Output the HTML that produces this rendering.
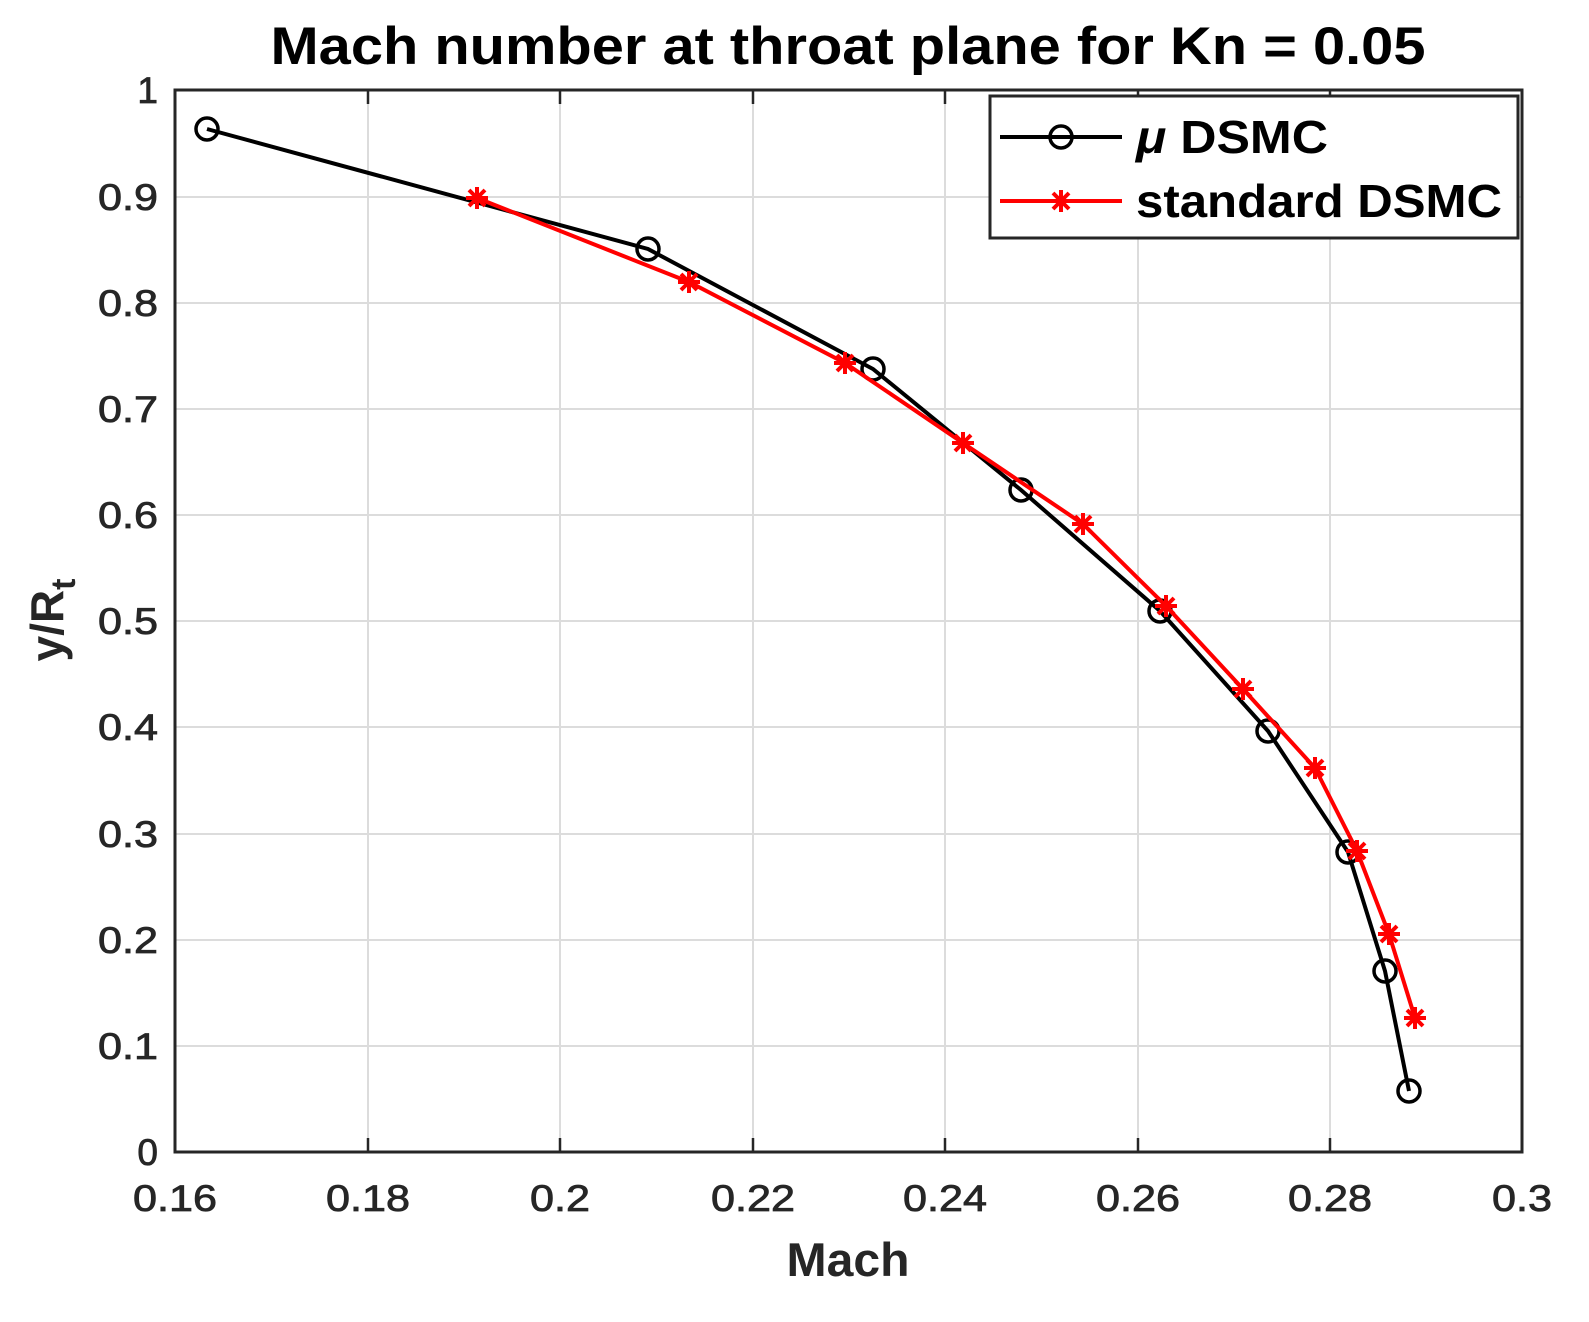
<!DOCTYPE html>
<html><head><meta charset="utf-8"><style>body{margin:0;background:#fff}</style></head><body>
<svg width="1589" height="1317" xmlns="http://www.w3.org/2000/svg" font-family="Liberation Sans, Arial, sans-serif">
<rect width="1589" height="1317" fill="#fff"/>
<g stroke="#dcdcdc" stroke-width="2">
<line x1="368" y1="90" x2="368" y2="1152"/><line x1="560" y1="90" x2="560" y2="1152"/><line x1="753" y1="90" x2="753" y2="1152"/><line x1="945" y1="90" x2="945" y2="1152"/><line x1="1138" y1="90" x2="1138" y2="1152"/><line x1="1330" y1="90" x2="1330" y2="1152"/>
<line x1="175" y1="197" x2="1522" y2="197"/><line x1="175" y1="303" x2="1522" y2="303"/><line x1="175" y1="409" x2="1522" y2="409"/><line x1="175" y1="515" x2="1522" y2="515"/><line x1="175" y1="621" x2="1522" y2="621"/><line x1="175" y1="727" x2="1522" y2="727"/><line x1="175" y1="834" x2="1522" y2="834"/><line x1="175" y1="940" x2="1522" y2="940"/><line x1="175" y1="1046" x2="1522" y2="1046"/>
</g>
<rect x="175" y="90" width="1347" height="1062" fill="none" stroke="#262626" stroke-width="3"/>
<g stroke="#262626" stroke-width="2.5">
<line x1="368" y1="1152" x2="368" y2="1138"/><line x1="560" y1="1152" x2="560" y2="1138"/><line x1="753" y1="1152" x2="753" y2="1138"/><line x1="945" y1="1152" x2="945" y2="1138"/><line x1="1138" y1="1152" x2="1138" y2="1138"/><line x1="1330" y1="1152" x2="1330" y2="1138"/>
<line x1="368" y1="90" x2="368" y2="104"/><line x1="560" y1="90" x2="560" y2="104"/><line x1="753" y1="90" x2="753" y2="104"/><line x1="945" y1="90" x2="945" y2="104"/><line x1="1138" y1="90" x2="1138" y2="104"/><line x1="1330" y1="90" x2="1330" y2="104"/>
</g>
<g font-size="37" fill="#262626" text-anchor="middle" stroke="#262626" stroke-width="0.8" lengthAdjust="spacingAndGlyphs">
<text x="175" y="1211" textLength="84" lengthAdjust="spacingAndGlyphs">0.16</text><text x="368" y="1211" textLength="84" lengthAdjust="spacingAndGlyphs">0.18</text><text x="560" y="1211" textLength="60" lengthAdjust="spacingAndGlyphs">0.2</text><text x="753" y="1211" textLength="84" lengthAdjust="spacingAndGlyphs">0.22</text><text x="945" y="1211" textLength="84" lengthAdjust="spacingAndGlyphs">0.24</text><text x="1138" y="1211" textLength="84" lengthAdjust="spacingAndGlyphs">0.26</text><text x="1330" y="1211" textLength="84" lengthAdjust="spacingAndGlyphs">0.28</text><text x="1522" y="1211" textLength="60" lengthAdjust="spacingAndGlyphs">0.3</text>
</g>
<g font-size="37" fill="#262626" text-anchor="end" stroke="#262626" stroke-width="0.8">
<text x="158" y="103">1</text><text x="158" y="210" textLength="60" lengthAdjust="spacingAndGlyphs">0.9</text><text x="158" y="316" textLength="60" lengthAdjust="spacingAndGlyphs">0.8</text><text x="158" y="422" textLength="60" lengthAdjust="spacingAndGlyphs">0.7</text><text x="158" y="528" textLength="60" lengthAdjust="spacingAndGlyphs">0.6</text><text x="158" y="634" textLength="60" lengthAdjust="spacingAndGlyphs">0.5</text><text x="158" y="740" textLength="60" lengthAdjust="spacingAndGlyphs">0.4</text><text x="158" y="847" textLength="60" lengthAdjust="spacingAndGlyphs">0.3</text><text x="158" y="953" textLength="60" lengthAdjust="spacingAndGlyphs">0.2</text><text x="158" y="1059" textLength="60" lengthAdjust="spacingAndGlyphs">0.1</text><text x="158" y="1165">0</text>
</g>
<text x="848" y="1276" font-size="47" font-weight="bold" fill="#262626" text-anchor="middle" textLength="123" lengthAdjust="spacingAndGlyphs">Mach</text>
<text transform="translate(63,620) rotate(-90)" font-size="46" font-weight="bold" fill="#262626" text-anchor="middle">y/R<tspan dy="12" font-size="34">t</tspan></text>
<text x="848" y="64" font-size="53" font-weight="bold" fill="#000" text-anchor="middle" textLength="1155" lengthAdjust="spacingAndGlyphs">Mach number at throat plane for Kn = 0.05</text>
<polyline fill="none" stroke="#000" stroke-width="4" points="207,129 648,249 873,369 1021,490 1160,611 1268,731 1348,852 1385,971 1409,1091"/>
<g fill="none" stroke="#000" stroke-width="3.5">
<circle cx="207" cy="129" r="11"/><circle cx="648" cy="249" r="11"/><circle cx="873" cy="369" r="11"/><circle cx="1021" cy="490" r="11"/><circle cx="1160" cy="611" r="11"/><circle cx="1268" cy="731" r="11"/><circle cx="1348" cy="852" r="11"/><circle cx="1385" cy="971" r="11"/><circle cx="1409" cy="1091" r="11"/>
</g>
<polyline fill="none" stroke="#f00" stroke-width="4" points="477,198 689,282 845,363 963,443 1083,524 1166,606 1243,689 1315,768 1357,851 1389,934 1415,1018"/>
<defs><g id="st" stroke="#f00" stroke-width="4"><line x1="-11" y1="0" x2="11" y2="0"/><line x1="0" y1="-11" x2="0" y2="11"/><line x1="-8" y1="-8" x2="8" y2="8"/><line x1="-8" y1="8" x2="8" y2="-8"/></g></defs>
<use href="#st" x="477" y="198"/><use href="#st" x="689" y="282"/><use href="#st" x="845" y="363"/><use href="#st" x="963" y="443"/><use href="#st" x="1083" y="524"/><use href="#st" x="1166" y="606"/><use href="#st" x="1243" y="689"/><use href="#st" x="1315" y="768"/><use href="#st" x="1357" y="851"/><use href="#st" x="1389" y="934"/><use href="#st" x="1415" y="1018"/>
<rect x="990" y="96" width="528" height="142" fill="#fff" stroke="#262626" stroke-width="3"/>
<line x1="1000" y1="137" x2="1122" y2="137" stroke="#000" stroke-width="4"/>
<circle cx="1061" cy="137" r="11" fill="none" stroke="#000" stroke-width="3.5"/>
<text x="1136" y="153" font-size="46" font-weight="bold" fill="#000" textLength="192" lengthAdjust="spacingAndGlyphs"><tspan font-style="italic">μ</tspan> DSMC</text>
<line x1="1000" y1="201" x2="1122" y2="201" stroke="#f00" stroke-width="4"/>
<use href="#st" x="1061" y="201"/>
<text x="1136" y="217" font-size="46" font-weight="bold" fill="#000" textLength="366" lengthAdjust="spacingAndGlyphs">standard DSMC</text>
</svg>
</body></html>
